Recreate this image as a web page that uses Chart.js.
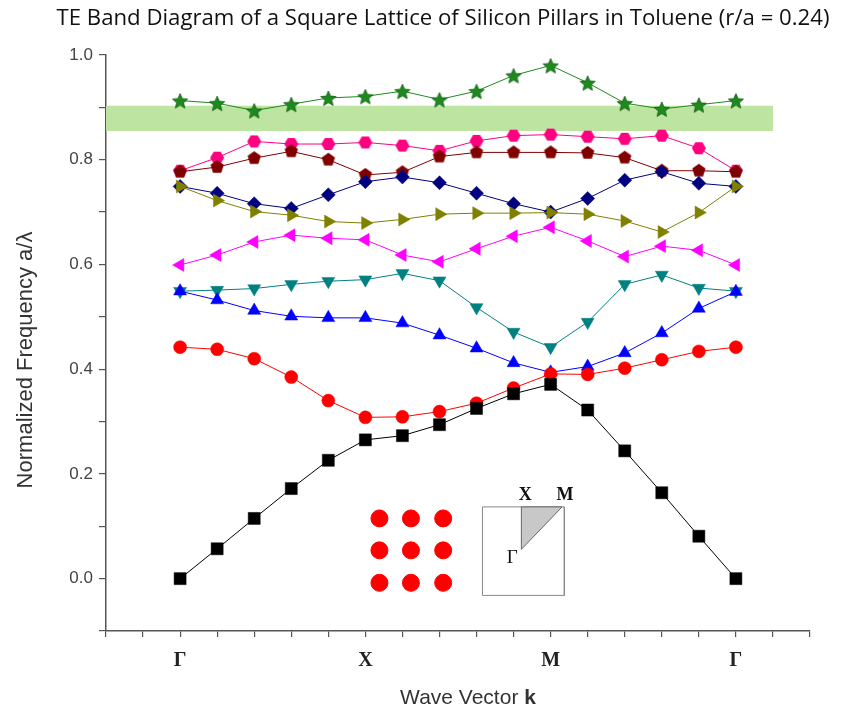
<!DOCTYPE html>
<html>
<head>
<meta charset="utf-8">
<script src="https://cdn.jsdelivr.net/npm/chart.js@4.4.1/dist/chart.umd.min.js"></script>
<style>
  html, body { margin: 0; padding: 0; background: #fff; }
  #wrap { width: 861px; height: 717px; }
</style>
</head>
<body>
<div id="wrap"><canvas id="grafico" width="861" height="717"></canvas></div>
<script>
// pontos do caminho Γ-X-M-Γ
const kPontos = [0, 1, 2, 3, 4, 5, 6, 7, 8, 9, 10, 11, 12, 13, 14, 15];
const kRotulos = { 0: 'Γ', 5: 'X', 10: 'M', 15: 'Γ' };

// bandas (frequência normalizada a/λ)
const banda1 = [0.000, 0.057, 0.115, 0.172, 0.226, 0.265, 0.273, 0.294, 0.325, 0.353, 0.371, 0.322, 0.244, 0.164, 0.081, 0.000];
const banda2 = [0.442, 0.438, 0.420, 0.385, 0.340, 0.308, 0.309, 0.319, 0.335, 0.364, 0.391, 0.390, 0.402, 0.418, 0.434, 0.442];
const banda3 = [0.549, 0.532, 0.512, 0.501, 0.498, 0.498, 0.488, 0.465, 0.440, 0.412, 0.394, 0.405, 0.431, 0.469, 0.516, 0.548];
const banda4 = [0.549, 0.551, 0.554, 0.562, 0.568, 0.571, 0.583, 0.569, 0.518, 0.471, 0.442, 0.490, 0.562, 0.580, 0.555, 0.549];
const banda5 = [0.599, 0.618, 0.643, 0.656, 0.650, 0.647, 0.618, 0.605, 0.630, 0.654, 0.671, 0.645, 0.615, 0.635, 0.627, 0.599];
const banda6 = [0.749, 0.722, 0.701, 0.694, 0.682, 0.679, 0.686, 0.696, 0.698, 0.698, 0.699, 0.696, 0.683, 0.662, 0.699, 0.749];
const banda7 = [0.749, 0.736, 0.716, 0.707, 0.733, 0.758, 0.767, 0.756, 0.736, 0.716, 0.700, 0.726, 0.761, 0.777, 0.755, 0.749];
const banda8 = [0.777, 0.786, 0.803, 0.816, 0.800, 0.771, 0.776, 0.806, 0.814, 0.814, 0.814, 0.813, 0.804, 0.779, 0.779, 0.777];
const banda9 = [0.779, 0.804, 0.835, 0.830, 0.830, 0.833, 0.827, 0.817, 0.836, 0.846, 0.848, 0.844, 0.840, 0.846, 0.822, 0.779];
const banda10 = [0.913, 0.908, 0.894, 0.906, 0.918, 0.921, 0.931, 0.915, 0.931, 0.961, 0.980, 0.947, 0.908, 0.897, 0.905, 0.913];

// faixa proibida (band gap)
const gapX = [-2, 16];
const gapTopo = 0.903;
const gapBase = 0.855;

// desenho da rede quadrada (inset)
const redeX = [5.38, 6.23, 7.1];
const redeY = [0.115, 0.054, -0.008];
const zonaX = [8.16, 10.37];
const zonaY = [-0.032, 0.137];
const trianguloX = [9.21, 9.21, 10.31, 9.21];
const trianguloY = [0.056, 0.137, 0.137, 0.056];

const titulo = 'TE Band Diagram of a Square Lattice of Silicon Pillars in Toluene (r/a = 0.24)';

function pares(xs, ys) {
  return xs.map((x, i) => ({ x: x, y: ys[i] }));
}

// marcadores que o Chart.js não tem
function marcadorPoligono(lados, raio, cor, rot) {
  const c = document.createElement('canvas');
  const t = Math.ceil(raio * 2 + 2);
  c.width = t; c.height = t;
  const g = c.getContext('2d');
  g.beginPath();
  for (let i = 0; i < lados; i++) {
    const a = rot + i * 2 * Math.PI / lados;
    const px = t / 2 + raio * Math.cos(a);
    const py = t / 2 + raio * Math.sin(a);
    if (i === 0) g.moveTo(px, py); else g.lineTo(px, py);
  }
  g.closePath();
  g.fillStyle = cor;
  g.fill();
  return c;
}

function marcadorEstrela(raio, cor, borda) {
  const c = document.createElement('canvas');
  const t = Math.ceil(raio * 2 + 2);
  c.width = t; c.height = t;
  const g = c.getContext('2d');
  g.beginPath();
  for (let i = 0; i < 10; i++) {
    const r = i % 2 === 0 ? raio : raio * 0.45;
    const a = -Math.PI / 2 + i * Math.PI / 5;
    const px = t / 2 + r * Math.cos(a);
    const py = t / 2 + 1 + r * Math.sin(a);
    if (i === 0) g.moveTo(px, py); else g.lineTo(px, py);
  }
  g.closePath();
  g.fillStyle = cor;
  g.fill();
  g.lineWidth = 0.8;
  g.strokeStyle = borda;
  g.stroke();
  return c;
}

const pentagono = marcadorPoligono(5, 7, '#800000', -Math.PI / 2);
const hexagono = marcadorPoligono(6, 7, '#ff0080', 0);
const estrela = marcadorEstrela(8, '#1e8a1e', '#0b5a0b');

function serie(valores, cor, estilo, raio, rotacao) {
  return {
    type: 'line',
    data: pares(kPontos, valores),
    borderColor: cor,
    borderWidth: 1,
    backgroundColor: cor,
    pointBackgroundColor: cor,
    pointBorderColor: cor,
    pointBorderWidth: 0.5,
    pointStyle: estilo,
    pointRadius: raio,
    pointRotation: rotacao || 0,
    fill: false,
    tension: 0,
    order: 1
  };
}

const textos = {
  id: 'textos',
  afterDraw(chart) {
    const ctx = chart.ctx;
    const sx = chart.scales.x;
    const sy = chart.scales.y;
    ctx.save();

    // título (ajustado à largura do original)
    ctx.fillStyle = '#111';
    ctx.textAlign = 'center';
    ctx.textBaseline = 'middle';
    ctx.font = '20px "Open Sans"';
    const tam = 20 * 772 / ctx.measureText(titulo).width;
    ctx.font = tam.toFixed(1) + 'px "Open Sans"';
    ctx.fillText(titulo, 443, 19);

    // título do eixo x, com k em negrito
    ctx.fillStyle = '#333';
    ctx.textAlign = 'left';
    const parte1 = 'Wave Vector ';
    ctx.font = '21px "Liberation Sans"';
    const w1 = ctx.measureText(parte1).width;
    ctx.font = 'bold 21px "Liberation Sans"';
    const w2 = ctx.measureText('k').width;
    const x0 = 468 - (w1 + w2) / 2;
    ctx.font = '21px "Liberation Sans"';
    ctx.fillText(parte1, x0, 698);
    ctx.font = 'bold 21px "Liberation Sans"';
    ctx.fillText('k', x0 + w1, 698);

    // título do eixo y
    ctx.save();
    ctx.translate(26, 360);
    ctx.rotate(-Math.PI / 2);
    ctx.textAlign = 'center';
    ctx.font = '22px "Liberation Sans"';
    ctx.fillText('Normalized Frequency a/λ', 0, 0);
    ctx.restore();

    // rótulos do inset
    ctx.fillStyle = '#111';
    ctx.textAlign = 'center';
    ctx.font = 'bold 18px "Liberation Serif"';
    ctx.fillText('X', sx.getPixelForValue(trianguloX[1]) + 4, sy.getPixelForValue(zonaY[1]) - 12);
    ctx.fillText('M', sx.getPixelForValue(trianguloX[2]) + 3, sy.getPixelForValue(zonaY[1]) - 12);
    ctx.font = '19px "Liberation Serif"';
    ctx.fillText('Γ', sx.getPixelForValue(trianguloX[0]) - 9, sy.getPixelForValue(trianguloY[0]) + 9);
    ctx.restore();
  }
};

new Chart(document.getElementById('grafico'), {
  type: 'line',
  data: {
    datasets: [
      serie(banda1, '#000000', 'rect', 8.5),
      serie(banda2, '#ff0000', 'circle', 6.5),
      serie(banda3, '#0000ff', 'triangle', 7.5),
      serie(banda4, '#008080', 'triangle', 7.5, 180),
      serie(banda5, '#ff00ff', 'triangle', 7.5, 270),
      serie(banda6, '#808000', 'triangle', 7.5, 90),
      serie(banda7, '#000080', 'rectRot', 7),
      serie(banda8, '#800000', pentagono, 7),
      serie(banda9, '#ff0080', hexagono, 7),
      serie(banda10, '#1e8a1e', estrela, 8),
      {
        type: 'scatter',
        data: pares(redeX.flatMap(x => redeY.map(() => x)), redeX.flatMap(() => redeY)),
        pointStyle: 'circle',
        pointRadius: 8.5,
        pointBackgroundColor: '#ff0000',
        pointBorderColor: '#ff0000',
        order: 2
      },
      {
        type: 'line',
        data: pares(trianguloX, trianguloY),
        borderColor: '#666',
        borderWidth: 1,
        backgroundColor: '#c8c8c8',
        fill: 'shape',
        pointRadius: 0,
        tension: 0,
        order: 3
      },
      {
        type: 'line',
        data: pares([zonaX[0], zonaX[1], zonaX[1], zonaX[0], zonaX[0]], [zonaY[1], zonaY[1], zonaY[0], zonaY[0], zonaY[1]]),
        borderColor: '#888',
        borderWidth: 1,
        fill: false,
        pointRadius: 0,
        tension: 0,
        order: 3
      },
      {
        type: 'line',
        data: pares(gapX, [gapTopo, gapTopo]),
        borderWidth: 0,
        backgroundColor: '#bde4a0',
        fill: '+1',
        pointRadius: 0,
        order: 10
      },
      {
        type: 'line',
        data: pares(gapX, [gapBase, gapBase]),
        borderWidth: 0,
        fill: false,
        pointRadius: 0,
        order: 10
      }
    ]
  },
  options: {
    responsive: false,
    animation: false,
    layout: { padding: { top: 55, right: 51, bottom: 0, left: 0 } },
    plugins: {
      legend: { display: false },
      tooltip: { enabled: false },
      title: { display: false }
    },
    scales: {
      x: {
        type: 'linear',
        min: -2,
        max: 17,
        afterFit: s => { s.height = 86; },
        border: { display: true, color: '#555', width: 1.5 },
        grid: { drawOnChartArea: false, drawTicks: true, tickLength: 6, color: '#555', lineWidth: 1.2 },
        ticks: {
          stepSize: 1,
          autoSkip: false,
          maxRotation: 0,
          padding: 12,
          color: '#222',
          font: { family: '"Liberation Serif"', size: 20, weight: 'bold' },
          callback: v => kRotulos[v] || ''
        }
      },
      y: {
        type: 'linear',
        min: -0.1,
        max: 1.0,
        afterFit: s => { s.width = 106; },
        border: { display: true, color: '#555', width: 1.5 },
        grid: { drawOnChartArea: false, drawTicks: true, tickLength: 7, color: '#555', lineWidth: 1.2 },
        ticks: {
          stepSize: 0.1,
          autoSkip: false,
          padding: 6,
          color: '#444',
          font: { family: '"Liberation Sans"', size: 17 },
          callback: v => (Math.round(v * 10) % 2 === 0 ? v.toFixed(1) : '')
        }
      }
    }
  },
  plugins: [textos]
});
</script>
</body>
</html>
